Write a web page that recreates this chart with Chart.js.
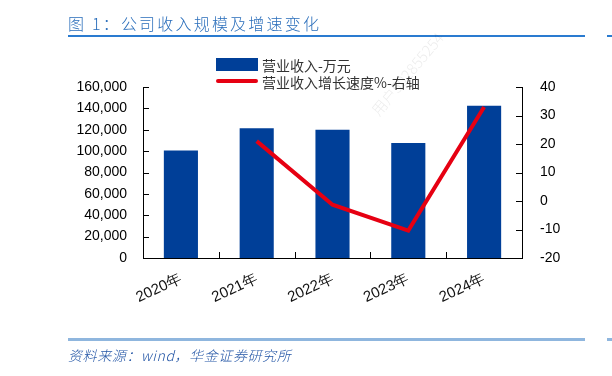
<!DOCTYPE html>
<html>
<head>
<meta charset="utf-8">
<script src="https://cdn.jsdelivr.net/npm/chart.js@4.4.1/dist/chart.umd.min.js"></script>
<style>
  body { margin: 0; background: #fff; }
  #wrap { position: relative; width: 612px; height: 376px; overflow: hidden; font-family: "Noto Sans CJK SC", sans-serif; }
  #wrap canvas { position: absolute; left: 0; top: 0; }
  .abs { position: absolute; white-space: nowrap; }
</style>
</head>
<body>
<div id="wrap">
  <canvas id="myChart" width="612" height="376"></canvas>
  <div class="abs" style="left:68px;top:11px;font-size:16px;letter-spacing:2.2px;color:#2a6ebb;font-weight:300;">图 1：公司收入规模及增速变化</div>
  <div class="abs" style="left:68px;top:35px;width:517px;height:2px;background:#2a7bd0;"></div>
  <div class="abs" style="left:607px;top:35px;width:5px;height:2px;background:#2a7bd0;"></div>
  <div class="abs" style="left:216px;top:58px;width:42px;height:13px;background:#003f98;"></div>
  <div class="abs" id="lg1" style="left:262px;top:55px;font-size:14px;color:#333;"></div>
  <div class="abs" style="left:216px;top:79px;width:42px;height:4px;border-radius:2px;background:#e60012;"></div>
  <div class="abs" id="lg2" style="left:262px;top:72px;font-size:14px;color:#333;"></div>
  <div class="abs" style="left:68px;top:338px;width:517px;height:3px;background:#8fb6de;"></div>
  <div class="abs" style="left:607px;top:338px;width:5px;height:3px;background:#8fb6de;"></div>
  <div class="abs" style="left:68px;top:345px;font-size:14px;letter-spacing:0.6px;font-style:italic;color:#2456a6;font-weight:300;">资料来源：wind，华金证券研究所</div>
  <div class="abs" style="left:366px;top:106px;font-size:15px;font-weight:300;color:rgba(0,0,0,0.08);transform:rotate(-50deg);transform-origin:left top;">用户502855254</div>
</div>
<script>
const categories = ["2020年", "2021年", "2022年", "2023年", "2024年"];
const revenue = [100500, 121500, 120000, 107500, 142500];
const growth = [null, 21, -1.3, -10.4, 33];
const revenueLabel = "营业收入-万元";
const growthLabel = "营业收入增长速度%-右轴";

document.getElementById("lg1").textContent = revenueLabel;
document.getElementById("lg2").textContent = growthLabel;

const tickFont = { family: "Liberation Sans", size: 14 };

// ticks drawn inward, like the original
const innerTicks = {
	id: "innerTicks",
	afterDraw(chart) {
		const c = chart.ctx;
		const x = chart.scales.x;
		const y = chart.scales.y;
		const y1 = chart.scales.y1;
		c.save();
		c.strokeStyle = "#000";
		c.lineWidth = 1;
		c.beginPath();
		y.ticks.forEach((t, i) => {
			const p = Math.round(y.getPixelForTick(i)) + 0.5;
			c.moveTo(y.right, p);
			c.lineTo(y.right + 6, p);
		});
		y1.ticks.forEach((t, i) => {
			const p = Math.round(y1.getPixelForTick(i)) + 0.5;
			c.moveTo(y1.left - 6, p);
			c.lineTo(y1.left, p);
		});
		for (let i = 1; i < categories.length; i++) {
			const p = Math.round((x.getPixelForTick(i - 1) + x.getPixelForTick(i)) / 2) + 0.5;
			c.moveTo(p, x.top);
			c.lineTo(p, x.top - 6);
		}
		c.stroke();
		c.restore();
	},
};

const ctx = document.getElementById("myChart").getContext("2d");
const myChart = new Chart(ctx, {
	type: "bar",
	data: {
		labels: categories,
		datasets: [
			{
				type: "line",
				label: growthLabel,
				data: growth,
				yAxisID: "y1",
				borderColor: "#e60012",
				borderWidth: 4,
				pointRadius: 0,
				tension: 0,
				order: 0,
			},
			{
				label: revenueLabel,
				data: revenue,
				yAxisID: "y",
				backgroundColor: "#003f98",
				barPercentage: 0.45,
				categoryPercentage: 1,
				order: 1,
			},
		],
	},
	options: {
		responsive: false,
		animation: false,
		layout: { padding: { top: 87, left: 0, right: 0, bottom: 0 } },
		plugins: { legend: { display: false }, tooltip: { enabled: false } },
		scales: {
			x: {
				grid: { display: false },
				border: { color: "#000", width: 1 },
				ticks: { font: { family: "Liberation Sans", size: 15 }, color: "#111", minRotation: 25, maxRotation: 25, padding: 4 },
				afterFit(scale) { scale.height = 118; },
			},
			y: {
				position: "left",
				min: 0,
				max: 160000,
				grid: { display: false },
				border: { color: "#000", width: 1 },
				ticks: {
					stepSize: 20000,
					font: tickFont,
					color: "#000",
					padding: 8,
					callback: (v) => v.toLocaleString("en-US"),
				},
				afterFit(scale) { scale.width = 143; },
			},
			y1: {
				position: "right",
				min: -20,
				max: 40,
				grid: { display: false },
				border: { color: "#000", width: 1 },
				ticks: { stepSize: 10, font: tickFont, color: "#000", padding: 10 },
				afterFit(scale) { scale.width = 90; },
			},
		},
	},
	plugins: [innerTicks],
});
</script>
</body>
</html>
